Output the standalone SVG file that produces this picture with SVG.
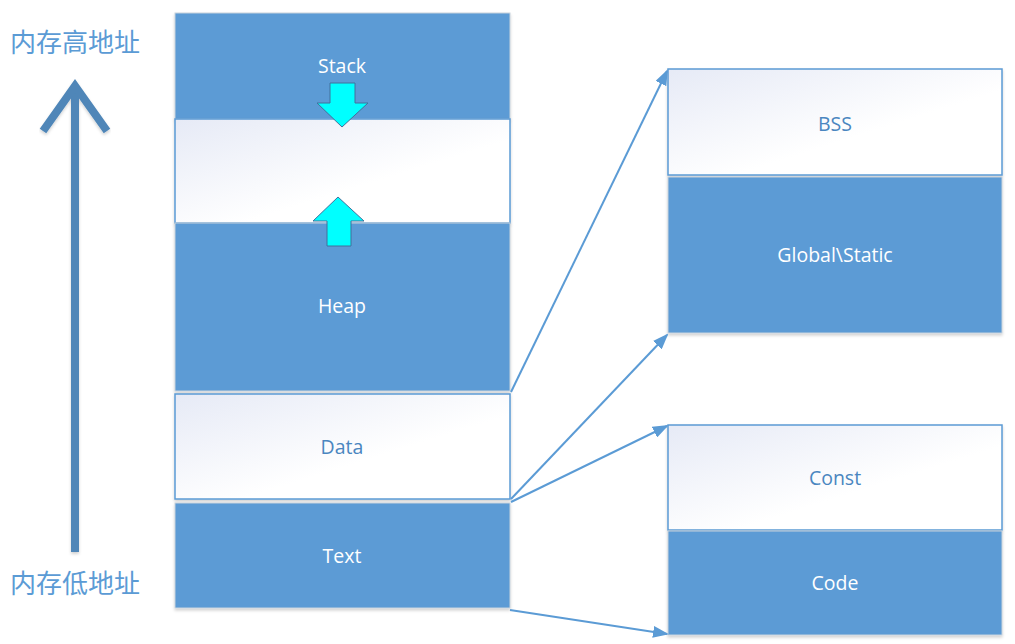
<svg xmlns="http://www.w3.org/2000/svg" width="1015" height="644" viewBox="0 0 1015 644">
<defs>
<linearGradient id="wg" x1="0" y1="0" x2="1" y2="1">
<stop offset="0" stop-color="#e6eaf6"/>
<stop offset="0.6" stop-color="#ffffff"/>
</linearGradient>
<marker id="ah" viewBox="0 0 16 12" refX="14" refY="6" markerWidth="16" markerHeight="12" markerUnits="userSpaceOnUse" orient="auto">
<path d="M0,0 L16,6 L0,12 z" fill="#5b9bd5"/>
</marker>
<filter id="sh" x="-5%" y="-5%" width="110%" height="115%">
<feDropShadow dx="0" dy="2" stdDeviation="1.5" flood-color="#000" flood-opacity="0.18"/>
</filter>
</defs>
<style>
.blue{fill:#5b9bd5;stroke:#c8d2dc;stroke-width:1;filter:url(#sh)}
.white{fill:url(#wg);stroke:#5b9bd5;stroke-width:1.5;filter:url(#sh)}
.lw{font-family:"Open Sans","Noto Sans",sans-serif;font-size:19.5px;fill:#ffffff;text-anchor:middle;dominant-baseline:central}
.lb{font-family:"Open Sans","Noto Sans",sans-serif;font-size:19.5px;fill:#4a86c0;text-anchor:middle;dominant-baseline:central}
.cn{font-family:"Noto Sans CJK SC",sans-serif;font-size:26px;fill:#5b9bd5}
.conn{stroke:#5b9bd5;stroke-width:2;fill:none}
.cy{fill:#00ffff;stroke:#41719c;stroke-width:1}
</style>
<rect width="1015" height="644" fill="#ffffff"/>
<g id="axis">
<text class="cn" x="10" y="52">内存高地址</text>
<text class="cn" x="10" y="593">内存低地址</text>
<g filter="url(#sh)">
<line x1="75" y1="552" x2="75" y2="92" stroke="#4f86b8" stroke-width="8"/>
<polyline points="43,131 75,86 107,131" fill="none" stroke="#4f86b8" stroke-width="8" stroke-linejoin="miter"/>
</g>
</g>
<g id="stack">
<rect class="blue" x="175" y="13" width="335" height="106"/>
<text class="lw" x="342" y="65">Stack</text>
</g>
<g id="free">
<rect class="white" x="175" y="119" width="335" height="104"/>
</g>
<g id="heap">
<rect class="blue" x="175" y="223" width="335" height="168"/>
<text class="lw" x="342" y="305">Heap</text>
</g>
<g id="data">
<rect class="white" x="175" y="394" width="335" height="105"/>
<text class="lb" x="342" y="446">Data</text>
</g>
<g id="text">
<rect class="blue" x="175" y="503" width="335" height="105"/>
<text class="lw" x="342" y="555">Text</text>
</g>
<g id="stack-arrow">
<polygon class="cy" points="330,83 355,83 355,103 368,103 342,127 317,103 330,103"/>
</g>
<g id="heap-arrow">
<polygon class="cy" points="338,197 364,221 351,221 351,246 327,246 327,221 313,221"/>
</g>
<g id="bss">
<rect class="white" x="668" y="69" width="334" height="106"/>
<text class="lb" x="835" y="123">BSS</text>
</g>
<g id="global">
<rect class="blue" x="668" y="177" width="334" height="156"/>
<text class="lw" x="835" y="254">Global\Static</text>
</g>
<g id="const">
<rect class="white" x="668" y="425" width="334" height="105"/>
<text class="lb" x="835" y="477">Const</text>
</g>
<g id="code">
<rect class="blue" x="668" y="531" width="334" height="104"/>
<text class="lw" x="835" y="582">Code</text>
</g>
<g id="connectors">
<line class="conn" x1="511" y1="392" x2="667" y2="71" marker-end="url(#ah)"/>
<line class="conn" x1="511" y1="499" x2="667" y2="335" marker-end="url(#ah)"/>
<line class="conn" x1="511" y1="502" x2="667" y2="426" marker-end="url(#ah)"/>
<line class="conn" x1="510" y1="610" x2="667" y2="634" marker-end="url(#ah)"/>
</g>
</svg>
